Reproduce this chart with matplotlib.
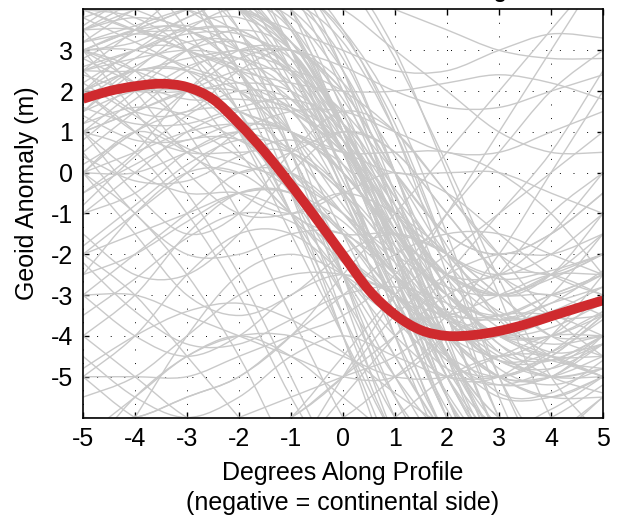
import numpy as np
import matplotlib
matplotlib.use("Agg")
import matplotlib.pyplot as plt
from matplotlib.path import Path
from matplotlib.patches import PathPatch

plt.rcParams['font.family'] = ['Liberation Sans', 'DejaVu Sans']

# ---------------- data ----------------
# x positions (degrees along profile) for the individual gray profiles
profile_x = [-5, -4, -3, -2, -1, 0, 1, 2, 3, 4, 5]

# individual stacked profiles (geoid anomaly in m), read approximately
steep_profiles = [
    [4.5, 5, 5, 4.5, 3, 0.5, -2.5, -5.5, -7.5, -8, -7.5],
    [6, 6, 5.5, 4.5, 2.5, -0.5, -4, -7, -9, -9, -8],
    [3.5, 4, 4.5, 4, 2.5, 0, -3, -6, -8, -8.5, -8],
    [2.5, 3, 3.5, 3.5, 2.5, 0, -3.5, -6.5, -8, -8, -7],
    [7, 6.5, 6, 5, 3.5, 1, -2, -5, -7, -7.5, -7],
    [5, 5.5, 5.5, 5, 4, 1.5, -2, -5.5, -8, -9, -9],
    [3, 3.2, 3.8, 4.2, 3.5, 1, -2.5, -5.5, -7, -7, -6],
    [8, 7.5, 6.5, 5, 3, 0, -3.5, -6.5, -8.5, -9, -8.5],
    [4, 3.5, 3.5, 3.5, 2.5, 0.5, -2, -4.5, -6.5, -7, -6.5],
    [1.5, 2.5, 3.5, 4, 3.2, 1, -2, -5, -7, -7.5, -7],
    [6, 6.5, 6.5, 6, 4.5, 2, -1, -4.5, -7.5, -9, -9.5],
    [2, 2.8, 3.6, 3.8, 3, 0.8, -2.2, -5, -6.8, -7.2, -6.5],
    [9, 8.5, 7.5, 6, 4, 1, -2.5, -6, -8.5, -10, -10],
    [3.8, 4.2, 4.4, 4, 2.8, 0.5, -2.5, -5, -6.5, -6.5, -5.5],
    [5, 4.5, 4.5, 4.5, 4, 2.5, 0, -3, -6, -8, -9],
    [2.5, 3.5, 4.5, 5, 4.5, 2.5, -0.5, -4, -7, -8.5, -9],
    [4.2, 4.8, 5, 4.6, 3.6, 1.6, -1.2, -4.2, -6.6, -7.6, -7.6],
    [10, 9, 7.5, 5.5, 3, 0, -3, -6, -8, -9, -9],
    [3.2, 3.6, 4, 4, 3.2, 1.2, -1.8, -4.8, -6.2, -5.8, -5],
    [6.5, 7, 7, 6.5, 5, 2.5, -1, -4.5, -7, -8, -8],
    [1, 2, 3, 3.5, 3, 1, -2, -5.5, -8, -9, -9],
    [5.5, 5, 4.5, 4, 3.2, 1.8, -0.5, -3.5, -6.5, -8.5, -9.5],
    [3, 3.5, 4, 4.5, 4.2, 2.8, 0, -3.5, -6.5, -8, -8],
    [4.8, 5.5, 6, 6, 5, 3, 0, -3.5, -6.5, -8, -8.5],
    [2.2, 3, 3.8, 4.2, 3.8, 2.2, -0.8, -4.2, -6.8, -7.8, -7.5],
    [4, 4.5, 4.5, 3.5, 1, -2.5, -6, -8, -9, -9, -8],
    [3, 3.5, 3.5, 2.5, 0, -3.5, -6.5, -8, -8, -7.5, -7],
    [5.5, 5.5, 5, 3.5, 0.5, -3, -6.5, -9, -10, -10, -9],
    [2, 2.5, 2.5, 1.5, -1, -4, -7, -9, -9.5, -9, -8],
    [6, 5.5, 4.5, 2.5, -0.5, -4, -7.5, -10, -11, -11, -10],
    [3.5, 3.8, 3.5, 2.5, 0.5, -2.5, -5.5, -7.5, -8, -7.5, -6.5],
    [5, 5.5, 5.5, 5.2, 4.6, 3.5, 1.5, -1.5, -5, -7.5, -9],
    [4, 4, 4.2, 4.4, 4.2, 3.2, 1, -2, -5, -7, -7.5],
    [7, 7, 6.5, 6, 5, 3.5, 1, -2.5, -6, -8, -9],
    [3.5, 4.2, 4.8, 5, 4.6, 3.4, 1.2, -2, -5.5, -8, -9],
    [6, 5, 3.5, 1.5, -1, -3.5, -6, -7.5, -8, -7.5, -7],
    [5, 4.5, 3, 1, -1.5, -4, -6.5, -8, -8.5, -8, -7],
    [8, 6.5, 4.5, 2, -0.5, -3, -5.5, -7, -7.5, -7, -6],
    [4, 3.8, 3, 1.5, -0.5, -2.5, -4.5, -6.5, -8, -8.5, -8],
    [7, 6, 4.5, 2.5, 0, -2.5, -5, -7, -8, -8, -7.5],
    [3, 3, 2.5, 1, -1, -3, -5, -6.5, -7, -6.5, -6],
    [9, 7.5, 5.5, 3, 0.5, -2, -4.5, -6.5, -8, -8.5, -8],
    [4.5, 4.5, 4, 3, 1, -1.5, -4, -6.5, -8.5, -9.5, -9.5],
    [5.5, 5.8, 5.4, 4.2, 2.2, -0.4, -3.2, -6, -8.2, -9.2, -9],
    [2.8, 3.4, 3.6, 3, 1.6, -0.6, -3.2, -5.8, -7.6, -8, -7.4],
    [6.5, 6.2, 5.4, 4, 2, -0.4, -3, -5.4, -7, -7.4, -7],
    [3.6, 4.4, 4.8, 4.4, 3, 0.8, -1.8, -4.4, -6.2, -6.6, -6],
    [4.4, 3.6, 3, 2.6, 1.8, 0.2, -2, -4.4, -6, -6.4, -6],
    [5.2, 5.6, 5.6, 5, 3.6, 1.2, -1.6, -4, -5.4, -5.4, -4.6],
    [4, 4.2, 4, 3.4, 2, -0.2, -2.8, -4.6, -5, -4.4, -3.4],
    [3.2, 4, 4.4, 4.2, 3.2, 1.2, -1.4, -3.6, -4.6, -4.4, -3.6],
    [6, 5.6, 5, 4.2, 3, 1.2, -1.2, -3.4, -4.6, -4.8, -4.2],
    [0, -1, -2.5, -4.5, -7, -9, -10, -10, -9, -8, -7],
    [2, 1, -0.5, -2.5, -5, -7.5, -9, -9.5, -9, -8, -7],
    [-2, -3, -4.5, -6, -7.5, -8.5, -9, -8.5, -7.5, -6.5, -5.5],
    [3, 2.5, 1, -1, -3.5, -6, -8, -9, -9, -8.5, -8],
    [1, 0.5, -1, -3, -5.5, -7.5, -8.5, -8.5, -8, -7, -6],
    [7, 7, 7, 6.5, 6, 5, 3, 0, -3, -6, -8],
    [6, 6.5, 6.5, 6.5, 6, 4.8, 2.8, 0.2, -2.6, -5, -6.5],
]

moderate_profiles = [
    [1, 1.5, 2, 2, 1.5, 0.5, -1, -2.5, -3.5, -3.5, -3],
    [0, 0.5, 1, 1.2, 1, 0, -1.5, -3, -4, -4.5, -4.5],
    [2.5, 2.8, 3, 2.8, 2, 0.5, -1.5, -3, -3.5, -3, -2.5],
    [-1, -0.5, 0.5, 1, 0.5, -0.5, -2, -3.5, -4.5, -5, -5],
    [3, 2.5, 2, 1.5, 1, 0, -1.5, -2.5, -3, -2.5, -2],
    [1.5, 2, 2, 1, -0.5, -2, -3, -3.5, -3.5, -3, -2.5],
    [-2, -1.5, -1, -0.5, -0.5, -1.5, -3, -4.5, -5.5, -5.5, -5],
    [0.5, 1.5, 2.5, 3, 2.5, 1, -1, -2.5, -3, -2.5, -1.5],
    [2, 1, 0.5, 0.5, 0.5, -0.5, -2, -3.5, -4, -4, -3.5],
    [-3, -2, -1, 0, 0, -1, -2.5, -4, -5, -5, -4.5],
    [1, 0, -0.5, -0.5, -1, -2, -3, -4, -4.5, -4, -3],
    [3.5, 3.5, 3, 2.5, 1.5, 0, -1.5, -2.5, -3, -3, -3.5],
    [0, 1, 1.5, 1.5, 0.5, -1, -2.5, -3.5, -4, -4.5, -5],
    [-1, 0, 1, 1.5, 1.5, 0.5, -1, -2, -2.5, -2, -1],
    [2, 2.5, 2.5, 2, 1, -0.5, -2.5, -4.5, -6, -6.5, -6],
    [2.8, 2.2, 1.8, 1.8, 1.6, 0.8, -0.8, -2.6, -3.8, -4.2, -4],
    [0.8, 1.8, 2.6, 2.8, 2.2, 0.6, -1.6, -3.6, -4.6, -4.6, -4],
    [-0.5, 0.2, 0.8, 0.8, 0, -1.5, -3.2, -4.6, -5.2, -5, -4.2],
    [1.6, 1.2, 1.2, 1.6, 1.8, 1.2, -0.4, -2.2, -3.4, -3.6, -3],
    [3.2, 3.4, 3.2, 2.4, 1, -0.8, -2.4, -3.4, -3.6, -3.2, -2.8],
    [-1.8, -0.8, 0.2, 0.8, 0.6, -0.4, -1.8, -3, -3.6, -3.4, -2.8],
    [2.2, 1.4, 0.6, 0.2, -0.2, -1, -2.2, -3.6, -4.6, -5, -4.8],
    [1.2, 2.2, 3, 3.2, 2.6, 1.2, -0.6, -2, -2.6, -2.4, -2],
    [0.4, -0.2, -0.2, 0.4, 0.8, 0.2, -1.4, -3.2, -4.4, -4.6, -4],
    [2.6, 3, 3.4, 3.4, 2.8, 1.4, -0.6, -2.8, -4.4, -5, -4.8],
    [-2.5, -2, -1.2, -0.5, -0.5, -1.2, -2.5, -3.6, -4, -3.6, -3],
    [1.4, 0.8, 0.8, 1.2, 1, 0, -1.6, -3, -3.6, -3.2, -2.4],
    [3.8, 3.2, 2.6, 2.2, 1.6, 0.6, -1, -2.8, -4.2, -5, -5.4],
    [1.8, 2.6, 3.2, 3.2, 2.4, 0.8, -1.2, -3, -4, -4, -3.4],
    [-0.8, 0.4, 1.4, 2, 1.8, 0.6, -1.4, -3.4, -4.8, -5.2, -4.8],
    [2.4, 2, 2, 2.2, 2, 1, -0.8, -2.8, -4.2, -4.6, -4.2],
    [0.2, 1, 2, 2.8, 3, 2.2, 0.4, -1.8, -3.6, -4.4, -4.2],
    [-3.5, -2.6, -1.6, -1, -1.2, -2.2, -3.6, -4.8, -5.2, -4.8, -4],
    [3, 2.2, 1.2, 0.4, -0.4, -1.4, -2.6, -3.6, -4, -3.8, -3.2],
    [1.2, 1.6, 1.4, 0.8, 0, -1, -2, -2.8, -3, -2.6, -2],
]

wavy_profiles = [
    [1, -0.5, -1.5, -1, 0.5, 1.5, 1, -0.5, -2, -2.5, -2],
    [-4, -3, -1.5, -0.5, -0.5, -1.5, -3, -4, -4, -3, -1.5],
    [2, 3, 3, 2, 1, 0.5, 0.5, 0.5, 0, -1, -2.5],
    [-1.5, -2.5, -2.5, -1.5, 0, 1, 0.5, -1, -2.5, -3.5, -3.5],
    [0, 1, 0.5, -0.5, -1, -0.5, 0, -0.5, -1.5, -2.5, -3],
    [-5, -4, -2.5, -1.5, -1.5, -2.5, -4, -5, -5, -4, -2.5],
    [3.5, 2, 0.5, 0, 0.5, 1, 0.5, -1, -2.5, -3, -2.5],
    [-3, -4, -4.5, -4, -3, -2.5, -3, -4, -5, -5.5, -5],
    [2.5, 1.5, 1.5, 2.5, 3, 2, 0, -2, -3, -2.5, -1],
    [-0.5, 0.5, 2, 3, 3, 2, 0, -1.5, -2, -1.5, -0.5],
    [-5.5, -5, -4, -3, -2.5, -2.5, -3, -4, -5, -5.5, -5.5],
    [0.5, -1, -2, -2, -1.5, -1.5, -2.5, -4, -5, -5, -4],
    [1.5, 2.5, 2, 0.5, -1, -1.5, -1.5, -2, -3, -4, -4.5],
    [-2.5, -1, 0, 0, -1, -2.5, -3.5, -3.5, -3, -2.5, -2.5],
    [-6.5, -5.5, -4.5, -4, -4, -4.5, -5, -5, -4.5, -4, -4],
    [3, 1.5, 0, -1, -1, -0.5, -1, -2, -3.5, -4.5, -5],
    [-4.5, -5.5, -6, -5.5, -4.5, -4, -4.5, -5, -5, -4.5, -3.5],
    [0, -1.5, -3, -3.5, -3, -2, -1.5, -2, -3, -4, -4],
    [-4.8, -4, -3.4, -3.2, -3.6, -4.4, -5.4, -6.2, -6.4, -6, -5.2],
    [-2.2, -3.4, -4.2, -4.2, -3.6, -3, -2.8, -3.2, -4, -4.6, -4.8],
    [-8, -6, -4, -2.5, -2, -2.5, -3.5, -4.5, -5, -4.5, -3.5],
    [-7, -5.5, -4.5, -4, -4.5, -5.5, -6.5, -7, -7, -6.5, -6],
]

right_side_profiles = [
    [-9, -9, -8.5, -8, -7, -5.5, -4, -2.5, -1, 0.5, 2.5],
    [-8, -8, -7.5, -7, -6, -4.5, -3, -2, -1, 0, 1],
    [-10, -10, -9.5, -8.5, -7, -5, -3, -1, 1, 3, 5],
    [5, 5, 4.5, 4, 3.5, 3, 2.5, 2.5, 3, 3.4, 3.3],
    [6, 6, 6, 5.5, 5, 4.5, 4, 3.5, 3, 2.8, 2.8],
    [3, 3.5, 4, 4.5, 4.5, 4, 3, 2, 1, 0.5, 0.5],
    [-2, -1, 0, 1, 1.5, 1.5, 1, 0.5, 0.5, 1, 1.5],
    [-6, -6, -5.5, -5, -4, -3, -2, -1.5, -1.5, -2, -2.5],
    [-7, -7, -7, -6.5, -6, -5, -3.5, -2.5, -2, -2, -1.5],
    [-7.5, -7, -6.5, -6, -5.5, -5, -4.5, -3.5, -2, 0, 2],
    [-5, -6, -6.5, -6.5, -6, -5, -4, -3, -2.5, -2.5, -3],
    [-4, -5, -6, -6.5, -6.5, -6, -5, -4, -3.5, -3.5, -4],
    [2, 2, 2, 1.5, 1, 0.5, 0, 0, 0, -0.5, -1],
    [4.5, 4, 3.5, 3, 2.5, 1.5, 0, -1.5, -2, -1.5, -0.5],
    [0, 0, 0.5, 1, 1, 0, -1.5, -2.5, -2.5, -1.5, 0],
    [-3, -3, -3.5, -4, -4.5, -5, -5, -4, -2.5, -1, 0],
    [1, 1.5, 2, 2.5, 2.5, 2, 1, -0.5, -2, -3.5, -4.5],
    [-8, -8.5, -8.5, -8, -7.5, -7, -6, -5, -4.5, -4.5, -5],
    [-6, -6, -5.5, -5, -4, -2.5, -1, 0.5, 2, 3.5, 5],
    [-5, -5, -5, -4.5, -4, -3.5, -2.5, -1, 0.5, 2, 3],
    [2.5, 2.5, 2.8, 3, 3, 2.6, 2, 1.6, 1.6, 2, 2.4],
    [4, 3.5, 3, 2.5, 2.2, 2, 2, 2.2, 2.4, 2.2, 1.8],
]

# stacked (mean) profile
mean_x = [-5, -4.5, -4, -3.5, -3, -2.5, -2, -1.5, -1, -0.5, 0,
          0.5, 1, 1.5, 2, 2.5, 3, 3.5, 4, 4.5, 5]
mean_y = [1.81, 2.00, 2.12, 2.18, 2.10, 1.80, 1.20, 0.50, -0.30, -1.15, -2.02,
          -2.88, -3.48, -3.86, -4.00, -3.98, -3.88, -3.72, -3.52, -3.32, -3.13]

x_ticks = [-5, -4, -3, -2, -1, 0, 1, 2, 3, 4, 5]
y_ticks = [-5, -4, -3, -2, -1, 0, 1, 2, 3]

title_text = "Trench-Normal Geoid Stacking"
xlabel_text = "Degrees Along Profile\n(negative = continental side)"
ylabel_text = "Geoid Anomaly (m)"


# ---------------- plotting ----------------
def smooth_path(xs, ys):
    """Smooth curve through the data points (Catmull-Rom as cubic Bezier)."""
    pts = np.column_stack([xs, ys]).astype(float)
    n = len(pts)
    verts = [pts[0]]
    codes = [Path.MOVETO]
    for i in range(n - 1):
        p0 = pts[max(i - 1, 0)]
        p1 = pts[i]
        p2 = pts[i + 1]
        p3 = pts[min(i + 2, n - 1)]
        verts += [p1 + (p2 - p0) / 6.0, p2 - (p3 - p1) / 6.0, p2]
        codes += [Path.CURVE4] * 3
    return Path(verts, codes)


fig = plt.figure(figsize=(6.23, 5.19), dpi=100)
ax = fig.add_axes([83 / 623, 1 - 417.5 / 519, 520 / 623, 408 / 519])

ax.set_xlim(-5, 5)
ax.set_ylim(-6, 4)

gray = "#c9c9c9"
for group in (steep_profiles, moderate_profiles, wavy_profiles, right_side_profiles):
    for prof in group:
        ax.add_patch(PathPatch(smooth_path(profile_x, prof), fill=False,
                               edgecolor=gray, lw=1.0, zorder=2,
                               capstyle='round', joinstyle='round'))

ax.add_patch(PathPatch(smooth_path(mean_x, mean_y), fill=False,
                       edgecolor="#cf2a2e", lw=7.0, zorder=3,
                       capstyle='butt', joinstyle='round'))

ax.set_xticks(x_ticks)
ax.set_yticks(y_ticks)
ax.set_xticklabels([str(v) for v in x_ticks])
ax.set_yticklabels([str(v) for v in y_ticks])
ax.tick_params(direction='in', length=4.5, width=1.0, top=True, right=True,
               labelsize=18, pad=7, colors='black')
ax.grid(True, color='black', linestyle=(0, (1, 13)), lw=0.7, zorder=1)
ax.set_axisbelow(True)
for sp in ax.spines.values():
    sp.set_linewidth(1.2)
    sp.set_zorder(5)

fig.text(0.5 * (83 + 603) / 623, 1 - 488 / 519, xlabel_text, ha='center',
         va='center', fontsize=18, linespacing=1.3)
fig.text(27 / 623, 1 - 193 / 519, ylabel_text, ha='center', va='center',
         rotation=90, fontsize=18)
fig.text(507 / 623, 1.003, title_text, ha='right', va='baseline',
         fontsize=15, fontweight='bold')

fig.savefig("out.png", dpi=100)
